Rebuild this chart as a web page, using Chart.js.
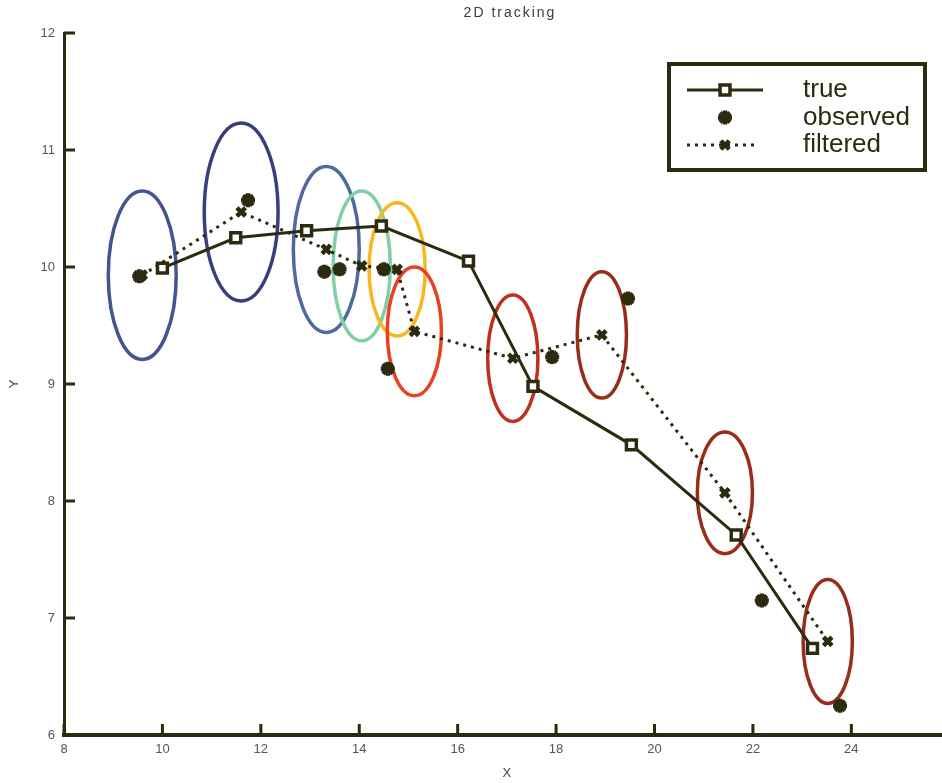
<!DOCTYPE html>
<html><head><meta charset="utf-8">
<script src="https://cdn.jsdelivr.net/npm/chart.js@4.4.1/dist/chart.umd.min.js"></script>
<style>
html,body{margin:0;padding:0;background:#fff;overflow:hidden;width:942px;height:783px}
#wrap{position:absolute;left:0;top:0;width:964px;height:783px}
</style>
</head><body>
<div id="wrap"><canvas id="c" width="964" height="783" style="width:964px;height:783px"></canvas></div>
<script>
// ---------- data ----------
const titleText = '2D tracking';
const xAxisLabel = 'X';
const yAxisLabel = 'Y';
const seriesLabels = ['true', 'observed', 'filtered'];
const xTickValues = [8, 10, 12, 14, 16, 18, 20, 22, 24, 26];
const yTickValues = [6, 7, 8, 9, 10, 11, 12];

const trueX = [10.00, 11.49, 12.93, 14.45, 16.22, 17.53, 19.53, 21.66, 23.21];
const trueY = [9.99, 10.25, 10.31, 10.35, 10.05, 8.98, 8.48, 7.71, 6.74];

const obsX = [9.53, 11.74, 13.29, 13.60, 14.50, 14.58, 17.92, 19.46, 22.18, 23.77];
const obsY = [9.92, 10.57, 9.96, 9.98, 9.98, 9.13, 9.23, 9.73, 7.15, 6.25];

const filtX = [9.59, 11.60, 13.33, 14.05, 14.77, 15.12, 17.12, 18.93, 21.43, 23.52];
const filtY = [9.93, 10.47, 10.15, 10.01, 9.98, 9.45, 9.22, 9.42, 8.07, 6.80];

// covariance ellipse semi-axes (data units), centred on filtered estimates
const ellRX = [0.69, 0.75, 0.67, 0.58, 0.57, 0.55, 0.51, 0.50, 0.56, 0.50];
const ellRY = [0.72, 0.76, 0.71, 0.64, 0.57, 0.55, 0.54, 0.54, 0.52, 0.53];
const ellColors = ['#44548e', '#3a3e7e', '#506a9e', '#80cfa6', '#f6b81e', '#e8411f', '#c0301e', '#982e19', '#982e19', '#982e19'];

// ---------- style ----------
const DARK = '#2c2a0f';
const FONT = "'Liberation Sans', Arial, sans-serif";

const pts = (xs, ys) => xs.map((x, i) => ({x, y: ys[i]}));

const ellipsePlugin = {
  id: 'ellipses',
  beforeDatasetsDraw(chart) {
    const ctx = chart.ctx, xs = chart.scales.x, ys = chart.scales.y;
    ctx.save();
    ctx.lineWidth = 3.5;
    for (let i = 0; i < filtX.length; i++) {
      const cx = xs.getPixelForValue(filtX[i]);
      const cy = ys.getPixelForValue(filtY[i]);
      const rx = Math.abs(xs.getPixelForValue(filtX[i] + ellRX[i]) - cx);
      const ry = Math.abs(ys.getPixelForValue(filtY[i] + ellRY[i]) - cy);
      ctx.strokeStyle = ellColors[i];
      ctx.beginPath();
      ctx.ellipse(cx, cy, rx, ry, 0, 0, Math.PI * 2);
      ctx.stroke();
    }
    ctx.restore();
  }
};

const tickPlugin = {
  id: 'inwardTicks',
  afterDraw(chart) {
    const ctx = chart.ctx, xs = chart.scales.x, ys = chart.scales.y, a = chart.chartArea;
    const L = 11;
    ctx.save();
    ctx.strokeStyle = DARK;
    ctx.lineWidth = 3;
    ctx.beginPath();
    xs.ticks.forEach(t => {
      const p = xs.getPixelForValue(t.value);
      ctx.moveTo(p, a.bottom); ctx.lineTo(p, a.bottom - L);
    });
    ys.ticks.forEach(t => {
      const p = ys.getPixelForValue(t.value);
      ctx.moveTo(a.left, p); ctx.lineTo(a.left + L, p);
    });
    ctx.stroke();
    // title
    ctx.fillStyle = '#3a3a3a';
    ctx.font = '14px ' + FONT;
    ctx.textAlign = 'center';
    ctx.textBaseline = 'middle';
    try { ctx.letterSpacing = '2px'; } catch (e) {}
    ctx.fillText(titleText, 510, 13);
    try { ctx.letterSpacing = '0px'; } catch (e) {}
    ctx.restore();
  }
};

const legendPlugin = {
  id: 'boxLegend',
  afterDraw(chart) {
    const ctx = chart.ctx;
    ctx.save();
    ctx.fillStyle = '#fff';
    ctx.fillRect(667, 62, 260, 110);
    ctx.strokeStyle = DARK;
    ctx.lineWidth = 4;
    ctx.strokeRect(669, 64, 256, 106);
    const rows = [90, 117.5, 145];
    chart.data.datasets.forEach((ds, i) => {
      const y = rows[i];
      ctx.strokeStyle = DARK;
      if (ds.showLine) {
        ctx.lineWidth = ds.borderWidth;
        ctx.setLineDash(ds.borderDash || []);
        ctx.beginPath();
        ctx.moveTo(687, y); ctx.lineTo(i === 2 ? 757 : 763, y);
        ctx.stroke();
        ctx.setLineDash([]);
      }
      ctx.fillStyle = ds.pointBackgroundColor;
      ctx.strokeStyle = ds.pointBorderColor;
      ctx.lineWidth = ds.pointBorderWidth;
      Chart.helpers.drawPoint(ctx, {pointStyle: ds.pointStyle, radius: ds.pointRadius, rotation: 0, borderWidth: ds.pointBorderWidth}, 725, y);
      ctx.fillStyle = DARK;
      ctx.font = '26px ' + FONT;
      ctx.textBaseline = 'alphabetic';
      ctx.textAlign = 'left';
      ctx.fillText(ds.label, 803, y + 7);
    });
    ctx.restore();
  }
};

new Chart(document.getElementById('c'), {
  type: 'scatter',
  data: {
    datasets: [
      {
        label: seriesLabels[0], data: pts(trueX, trueY), showLine: true,
        borderColor: DARK, borderWidth: 3,
        pointStyle: 'rect', pointRadius: 7, pointBorderWidth: 3.5,
        pointBackgroundColor: '#ffffff', pointBorderColor: DARK, clip: false
      },
      {
        label: seriesLabels[1], data: pts(obsX, obsY), showLine: false,
        borderColor: DARK,
        pointStyle: 'star', pointRadius: 7, pointBorderWidth: 4.5,
        pointBackgroundColor: DARK, pointBorderColor: DARK, clip: false
      },
      {
        label: seriesLabels[2], data: pts(filtX, filtY), showLine: true,
        borderColor: DARK, borderWidth: 3, borderDash: [3, 5],
        pointStyle: 'crossRot', pointRadius: 6, pointBorderWidth: 4.5,
        pointBackgroundColor: DARK, pointBorderColor: DARK, clip: false
      }
    ]
  },
  options: {
    responsive: false,
    animation: false,
    devicePixelRatio: 1,
    layout: {padding: {left: 0, right: 8, top: 33, bottom: 0}},
    plugins: {
      legend: {display: false},
      tooltip: {enabled: false},
      title: {display: false}
    },
    scales: {
      x: {
        type: 'linear', position: 'bottom',
        min: xTickValues[0], max: xTickValues[xTickValues.length - 1],
        afterBuildTicks: s => { s.ticks = xTickValues.map(v => ({value: v})); },
        afterFit: s => { s.height = 48; },
        grid: {display: false, drawTicks: false},
        border: {display: true, color: DARK, width: 4},
        ticks: {color: '#555', font: {size: 13, family: FONT}, padding: 7, maxRotation: 0},
        title: {display: true, text: xAxisLabel, color: '#444', font: {size: 13, family: FONT}, padding: {top: 0, bottom: 2}}
      },
      y: {
        type: 'linear', position: 'left',
        min: yTickValues[0], max: yTickValues[yTickValues.length - 1],
        afterBuildTicks: s => { s.ticks = yTickValues.map(v => ({value: v})); },
        afterFit: s => { s.width = 64; },
        grid: {display: false, drawTicks: false},
        border: {display: true, color: DARK, width: 3},
        ticks: {color: '#555', font: {size: 13, family: FONT}, padding: 9},
        title: {display: true, text: yAxisLabel, color: '#444', font: {size: 13, family: FONT}, padding: {top: 7, bottom: 0}}
      }
    }
  },
  plugins: [ellipsePlugin, tickPlugin, legendPlugin]
});
</script>
</body></html>
